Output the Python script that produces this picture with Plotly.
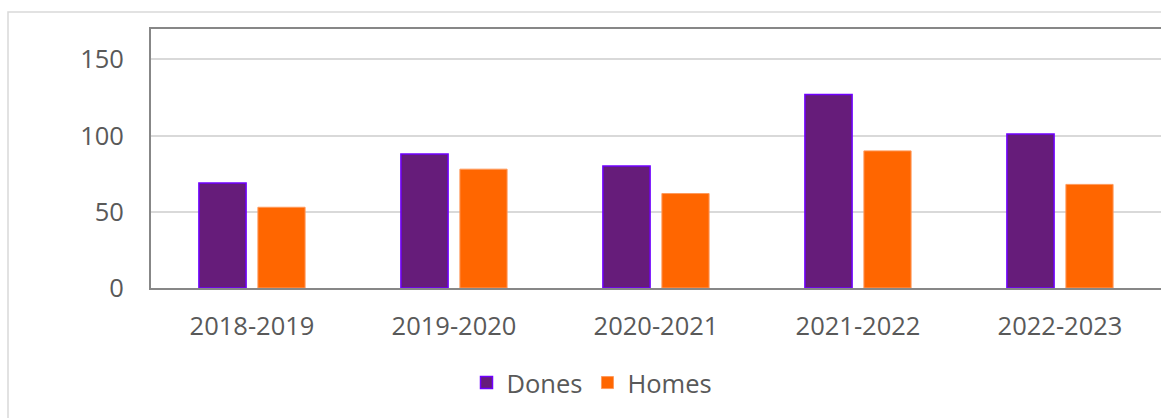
import plotly.graph_objects as go

categories = ["2018-2019", "2019-2020", "2020-2021", "2021-2022", "2022-2023"]
dones = [69, 88, 80, 127, 101]
homes = [53, 78, 62, 90, 68]
y_ticks = [0, 50, 100, 150]

W, H = 1161, 418
L, R, T, B = 151, 0, 29, 130
pw, ph = W - L - R, H - T - B

def px_x(x):
    return (x - L) / pw

def px_y(y):
    return (H - B - y) / ph

fig = go.Figure()
fig.add_trace(go.Bar(
    x=categories, y=dones, name="Dones",
    marker=dict(color="#661C7A", line=dict(color="#7000FF", width=1.5)),
))
fig.add_trace(go.Bar(
    x=categories, y=homes, name="Homes",
    marker=dict(color="#FF6600", line=dict(color="#FF9A5C", width=1)),
))

font = dict(family="Open Sans", size=25.5, color="#595959")

fig.update_layout(
    width=W, height=H,
    margin=dict(l=L, r=R, t=T, b=B, pad=0),
    paper_bgcolor="white", plot_bgcolor="white",
    barmode="group", bargap=0.416, bargroupgap=0.2,
    font=font,
    showlegend=True,
    legend=dict(
        orientation="h", xanchor="center", yanchor="middle",
        x=px_x(592), y=px_y(383), font=font,
        itemwidth=30, bgcolor="rgba(0,0,0,0)",
    ),
    xaxis=dict(
        showline=True, linecolor="#878787", linewidth=2, mirror=True,
        showgrid=False, ticks="", tickfont=font, ticklabelstandoff=14,
    ),
    yaxis=dict(
        range=[0, 170], tickvals=y_ticks, showline=True, linecolor="#878787",
        linewidth=2, showgrid=True, gridcolor="#D9D9D9", gridwidth=1.5,
        zeroline=False, ticks="", tickfont=font, ticklabelstandoff=20,
    ),
)

fig.add_shape(
    type="rect", xref="paper", yref="paper",
    x0=px_x(8), x1=px_x(1200), y0=px_y(440), y1=px_y(12),
    line=dict(color="#D9D9D9", width=1.5), fillcolor="rgba(0,0,0,0)",
    layer="below",
)

fig.write_html(
    "out.html",
    config={"displayModeBar": False},
    post_script="document.body.style.margin='0';document.body.style.overflow='hidden';",
)
